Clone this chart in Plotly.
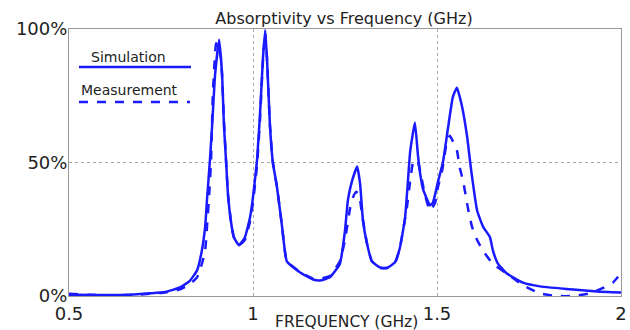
import plotly.graph_objects as go

# Simulation (solid)
sim_freq = [0.500, 0.584, 0.666, 0.720, 0.761, 0.802, 0.829, 0.848, 0.861, 0.870, 0.875, 0.883,
            0.889, 0.897, 0.908, 0.916, 0.921, 0.927, 0.932, 0.940, 0.948, 0.962, 0.978, 0.992,
            1.000, 1.011, 1.019, 1.027, 1.033, 1.038, 1.046, 1.054, 1.065, 1.079, 1.092, 1.128,
            1.163, 1.182, 1.209, 1.236, 1.250, 1.258, 1.269, 1.283, 1.291, 1.299, 1.310, 1.323,
            1.345, 1.364, 1.386, 1.399, 1.413, 1.421, 1.427, 1.440, 1.448, 1.454, 1.462, 1.481,
            1.489, 1.503, 1.516, 1.530, 1.543, 1.554, 1.568, 1.582, 1.592, 1.609, 1.625, 1.644,
            1.652, 1.666, 1.690, 1.734, 1.780, 1.870, 1.935, 2.000]
sim_abs = [0.5, 0.4, 0.5, 1.0, 1.5, 3.2, 5.8, 9.6, 17, 26, 36, 51,
           64, 83, 96, 83, 64, 50, 38, 28, 22, 19, 22, 29.5,
           37, 51, 68, 89, 99.6, 89, 64, 50, 41, 26, 13, 8.8,
           6.2, 5.8, 7, 12, 24.5, 36, 43, 48.5, 42, 28, 19.5, 13,
           10.7, 10.5, 12.6, 18, 29, 43, 54, 65, 53, 46, 40, 34,
           35, 43, 50, 63, 74.5, 78, 71, 59.5, 48, 32, 26, 22,
           17, 12, 8.4, 5, 3.6, 2.4, 1.7, 1.3]

# Measurement (dashed)
meas_freq = [0.500, 0.584, 0.666, 0.720, 0.761, 0.802, 0.829, 0.848, 0.861, 0.870, 0.875, 0.881,
             0.886, 0.891, 0.899, 0.902, 0.913, 0.921, 0.927, 0.932, 0.940, 0.948, 0.962, 0.978,
             0.992, 1.000, 1.011, 1.019, 1.027, 1.033, 1.038, 1.046, 1.054, 1.065, 1.079, 1.092,
             1.128, 1.163, 1.182, 1.209, 1.236, 1.250, 1.264, 1.272, 1.280, 1.288, 1.296, 1.304,
             1.310, 1.323, 1.345, 1.364, 1.386, 1.399, 1.418, 1.427, 1.435, 1.446, 1.454, 1.467,
             1.481, 1.495, 1.503, 1.514, 1.527, 1.535, 1.543, 1.554, 1.562, 1.571, 1.584, 1.595,
             1.609, 1.625, 1.652, 1.690, 1.734, 1.780, 1.826, 1.870, 1.916, 1.951, 1.978, 2.000]
meas_abs = [0.8, 0.3, 0.4, 0.8, 1.3, 2.5, 4.5, 7, 12, 17, 26, 38,
            51, 76, 94, 95, 89, 66, 50, 38, 28, 22, 19, 21,
            28, 35, 49, 66, 88, 98.5, 89, 64, 50, 41, 26, 13,
            9, 6.5, 6.5, 7.5, 13, 21, 33, 37, 39, 38, 31, 24,
            19.5, 13, 10.5, 10.5, 12.5, 18, 33, 43, 50, 51, 47, 38,
            32, 35, 41, 47, 58, 60, 58, 54.6, 48, 43, 33, 26,
            21, 17, 12, 8.4, 4, 1, 0, 0, 1, 3, 5, 8.5]

x_ticks = [0.5, 1, 1.5, 2]
x_ticktext = ["0.5", "1", "1.5", "2"]
y_ticks = [0, 50, 100]
y_ticktext = ["0%", "50%", "100%"]

BLUE = "#1a1aff"
FONT = "DejaVu Sans"
TXT = "#222222"

fig = go.Figure()
fig.add_trace(go.Scatter(x=sim_freq, y=sim_abs, mode="lines", name="Simulation",
                         line=dict(color=BLUE, width=2.5, shape="spline", smoothing=0.4)))
fig.add_trace(go.Scatter(x=meas_freq, y=meas_abs, mode="lines", name="Measurement",
                         line=dict(color=BLUE, width=2.5, dash="dash", shape="spline", smoothing=0.4)))

# Custom legend (text above sample lines)
W, H = 552.0, 267.0
def px2paper(px, py):
    return (px - 69) / W, (296 - py) / H

x0, y0 = px2paper(79, 67)
x1, _ = px2paper(191, 67)
fig.add_shape(type="line", xref="paper", yref="paper", x0=x0, x1=x1, y0=y0, y1=y0,
              line=dict(color=BLUE, width=2.5))
x0, y0 = px2paper(79, 102)
x1, _ = px2paper(190, 102)
fig.add_shape(type="line", xref="paper", yref="paper", x0=x0, x1=x1, y0=y0, y1=y0,
              line=dict(color=BLUE, width=2.5, dash="dash"))
ax_, ay_ = px2paper(128, 57)
fig.add_annotation(text="Simulation", xref="paper", yref="paper", x=ax_, y=ay_,
                   xanchor="center", yanchor="middle",
                   showarrow=False, font=dict(family=FONT, size=14, color=TXT))
ax_, ay_ = px2paper(129, 90)
fig.add_annotation(text="Measurement", xref="paper", yref="paper", x=ax_, y=ay_,
                   xanchor="center", yanchor="middle",
                   showarrow=False, font=dict(family=FONT, size=14, color=TXT))
# x-axis title
ax_, ay_ = px2paper(346, 322)
fig.add_annotation(text="FREQUENCY (GHz)", xref="paper", yref="paper", x=ax_, y=ay_,
                   xanchor="center", yanchor="middle",
                   showarrow=False, font=dict(family=FONT, size=15.5, color=TXT))

fig.update_layout(
    width=630, height=330,
    margin=dict(l=69, r=9, t=29, b=34),
    paper_bgcolor="white", plot_bgcolor="white",
    showlegend=False,
    font=dict(family=FONT, color=TXT),
    title=dict(text="Absorptivity vs Frequency (GHz)", x=344 / 630, xanchor="center",
               y=1 - 18 / 330, yanchor="middle", font=dict(size=16, family=FONT, color=TXT)),
    xaxis=dict(range=[0.5, 2], tickvals=x_ticks, ticktext=x_ticktext, automargin=False,
               showgrid=True, gridcolor="#aaaaaa", griddash="dot", gridwidth=1,
               zeroline=False, showline=True, linecolor="#999999", linewidth=1, mirror=True,
               ticks="", ticklabelstandoff=1, tickfont=dict(size=18, family=FONT, color=TXT)),
    yaxis=dict(range=[0, 100], tickvals=y_ticks, ticktext=y_ticktext, automargin=False,
               showgrid=True, gridcolor="#aaaaaa", griddash="dot", gridwidth=1,
               zeroline=False, showline=True, linecolor="#999999", linewidth=1, mirror=True,
               ticks="", ticklabelstandoff=-3, tickfont=dict(size=18, family=FONT, color=TXT)),
)

fig.write_html("out.html")
